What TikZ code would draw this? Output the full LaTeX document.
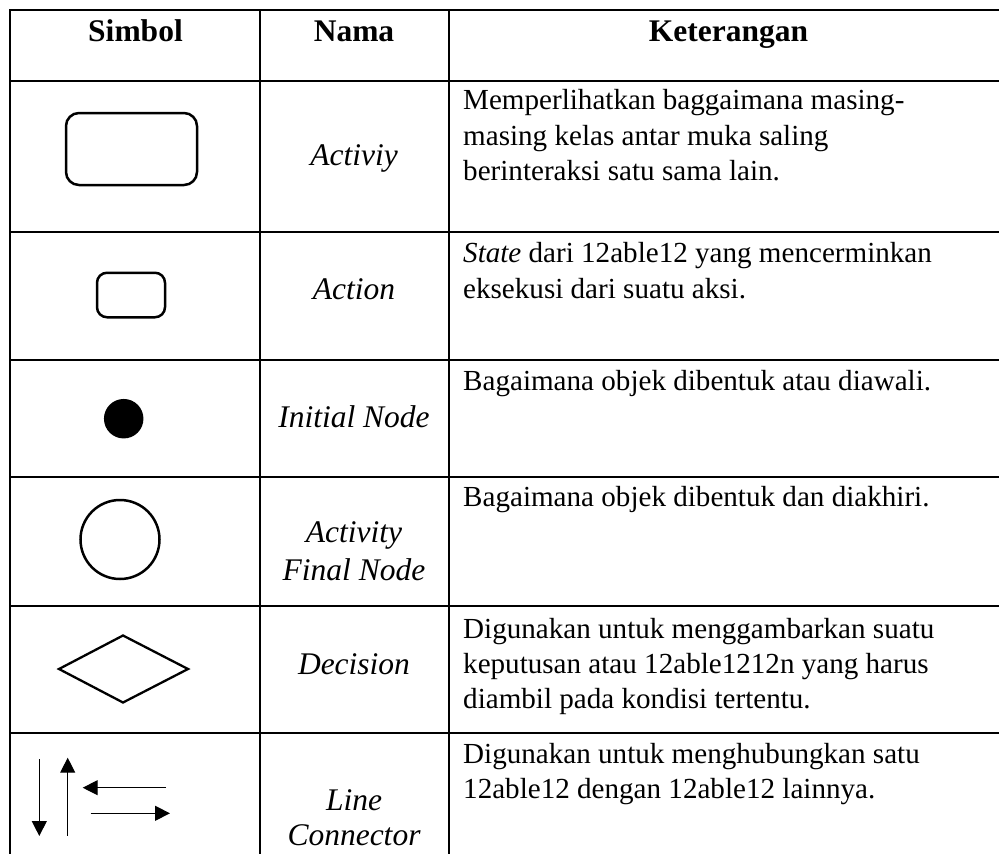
\documentclass[tikz,border=0pt]{standalone}
\usepackage{fontspec}
\setmainfont{Liberation Serif}
\usetikzlibrary{arrows.meta}
\tikzset{
  tbl/.style={line width=2.6pt, line cap=rect},
  hdr/.style={anchor=base, inner sep=0pt, font=\fontsize{31.5}{36}\selectfont\bfseries},
  nm/.style={anchor=base, inner sep=0pt, font=\fontsize{31.5}{36}\selectfont\itshape},
  ds/.style={anchor=base west, inner sep=0pt, font=\fontsize{29.1}{35}\selectfont},
  sym/.style={draw, line width=2.5pt, inner sep=0pt},
  conn/.style={line width=1.1pt, -{Triangle[length=15pt,width=15pt]}}
}
\begin{document}
\begin{tikzpicture}[x=1pt,y=-1pt]
\useasboundingbox (0,0) rectangle (999,854);
% table grid
\foreach \yy in {10,81,232,360,477,606,733}
  \draw[tbl] (10,\yy) -- (999,\yy);
\foreach \xx in {10,260,449}
  \draw[tbl] (\xx,10) -- (\xx,854);
% header
\node[hdr] (h1) at (135.5,41.7) {Simbol};
\node[hdr] (h2) at (354,41.7) {Nama};
\node[hdr] (h3) at (728.5,41.7) {Keterangan};
% symbols
\node[sym, rounded corners=13pt, minimum width=131pt, minimum height=72pt] (act) at (131.5,149) {};
\node[sym, rounded corners=10pt, minimum width=68pt, minimum height=44.5pt] (actn) at (131,295) {};
\node[circle, fill=black, inner sep=0pt, minimum size=39.5pt] (ini) at (123.7,418.7) {};
\node[sym, circle, minimum size=79pt] (fin) at (120,539.5) {};
\draw[line width=2.3pt, line join=miter] (59,669) -- (123,635.5) -- (188,669) -- (123,702.5) -- cycle;
\coordinate (d1) at (39.3,759);   \coordinate (d2) at (39.3,836);
\coordinate (u1) at (67.7,835.7); \coordinate (u2) at (67.7,757.7);
\coordinate (l1) at (166,787.7);  \coordinate (l2) at (82.7,787.7);
\coordinate (r1) at (90.7,813.3); \coordinate (r2) at (170,813.3);
\draw[conn] (d1) -- (d2);
\draw[conn] (u1) -- (u2);
\draw[conn] (l1) -- (l2);
\draw[conn] (r1) -- (r2);
% names
\node[nm] (n1) at (354,165.7) {Activiy};
\node[nm] (n2) at (354,299) {Action};
\node[nm] (n3) at (354,427.3) {Initial Node};
\node[nm] (n4a) at (354,542.7) {Activity};
\node[nm] (n4b) at (354,580) {Final Node};
\node[nm] (n5) at (354,674.3) {Decision};
\node[nm] (n6a) at (354,810) {Line};
\node[nm] (n6b) at (354,845.7) {Connector};
% descriptions
\node[ds] (k1a) at (463,109.3) {Memperlihatkan baggaimana masing-};
\node[ds] (k1b) at (463,145) {masing kelas antar muka saling};
\node[ds] (k1c) at (463,180.5) {berinteraksi satu sama lain.};
\node[ds] (k2a) at (463,262.7) {\textit{State} dari 12able12 yang mencerminkan};
\node[ds] (k2b) at (463,298.3) {eksekusi dari suatu aksi.};
\node[ds] (k3) at (463,390.7) {Bagaimana objek dibentuk atau diawali.};
\node[ds] (k4) at (463,506.7) {Bagaimana objek dibentuk dan diakhiri.};
\node[ds] (k5a) at (463,638.3) {Digunakan untuk menggambarkan suatu};
\node[ds] (k5b) at (463,673.3) {keputusan atau 12able1212n yang harus};
\node[ds] (k5c) at (463,708.3) {diambil pada kondisi tertentu.};
\node[ds] (k6a) at (463,763.3) {Digunakan untuk menghubungkan satu};
\node[ds] (k6b) at (463,798.3) {12able12 dengan 12able12 lainnya.};
\end{tikzpicture}
\end{document}
